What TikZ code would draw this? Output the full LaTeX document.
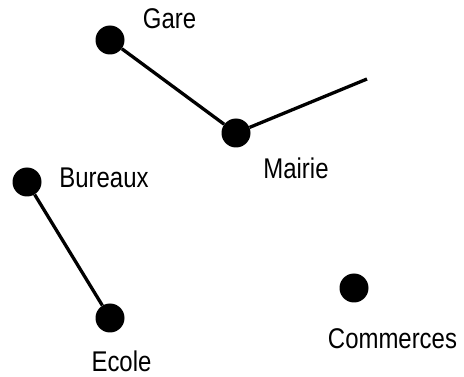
\documentclass[tikz,border=0pt]{standalone}
\usepackage{fontspec}
\setmainfont{Liberation Sans}
\begin{document}
\begin{tikzpicture}[x=1pt,y=-1pt,
  place/.style={circle,fill=black,draw=none,inner sep=0pt,minimum size=29pt},
  placename/.style={inner sep=0pt,anchor=base,font=\fontsize{28.5}{32}\selectfont},
  route/.style={line width=3.3pt,black}]
  \useasboundingbox (0,0) rectangle (464,377);
  % places
  \node[place] (gare) at (110,40) {};
  \node[place] (mairie) at (236,133) {};
  \node[place] (bureaux) at (27,182) {};
  \node[place] (ecole) at (110,318) {};
  \node[place] (commerces) at (354,288) {};
  \coordinate (mairieout) at (367,79);
  % roads
  \draw[route] (gare) -- (mairie);
  \draw[route] (mairie) -- (mairieout);
  \draw[route] (bureaux) -- (ecole);
  % names, set in a slightly condensed face
  \newcommand{\narrow}[1]{\scalebox{0.84}[1]{#1}}
  \node[placename] (tgare) at (169.5,28.5) {\narrow{Gare}};
  \node[placename] (tmairie) at (296,178.5) {\narrow{Mairie}};
  \node[placename] (tbureaux) at (104,188) {\narrow{Bureaux}};
  \node[placename] (tecole) at (121.5,371.5) {\narrow{Ecole}};
  \node[placename] (tcommerces) at (392.5,348.5) {\narrow{Commerces}};
\end{tikzpicture}
\end{document}
